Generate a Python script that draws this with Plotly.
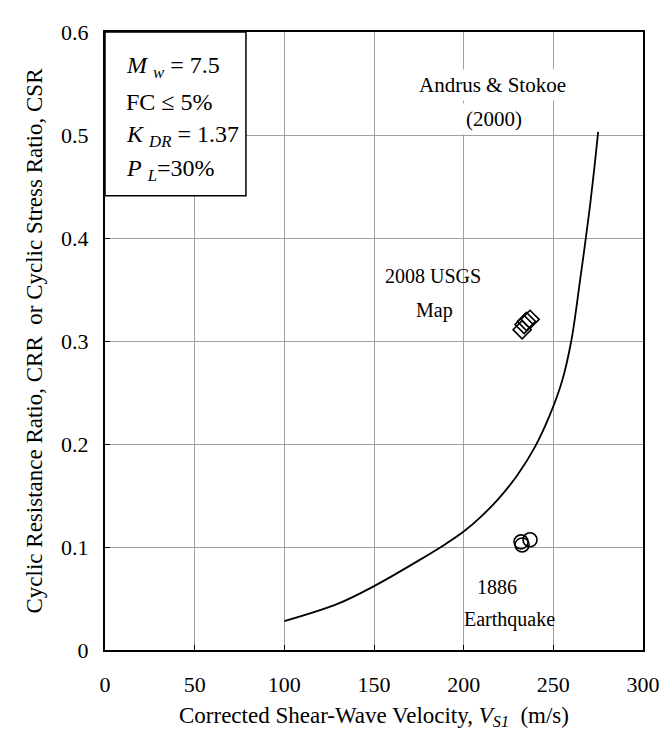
import plotly.graph_objects as go

# Andrus & Stokoe (2000) curve
curve_vs = [100, 130, 150, 175, 190, 200, 210, 220, 230, 240, 248, 255, 260, 265, 270, 273, 275]
curve_crr = [0.028, 0.045, 0.062, 0.087, 0.103, 0.115, 0.130, 0.148, 0.170, 0.198, 0.228, 0.262, 0.300, 0.360, 0.425, 0.470, 0.503]

# 2008 USGS Map points (diamonds)
usgs_vs = [237.0, 235.0, 233.7, 232.6]
usgs_csr = [0.321, 0.319, 0.316, 0.311]

# 1886 Earthquake points (circles)
eq_vs = [237.0, 232.0, 232.6]
eq_csr = [0.107, 0.105, 0.102]

xticks = [0, 50, 100, 150, 200, 250, 300]
yticks = [0, 0.1, 0.2, 0.3, 0.4, 0.5, 0.6]
ytick_labels = ["0", "0.1", "0.2", "0.3", "0.4", "0.5", "0.6"]

# text labels: (text, x, y, font size)
labels = [("Andrus & Stokoe", 216, 0.549, 21), ("(2000)", 217, 0.516, 21),
          ("2008 USGS", 183, 0.363, 20), ("Map", 184, 0.330, 20),
          ("1886", 218.5, 0.061, 20), ("Earthquake", 225.5, 0.030, 20)]

box_lines = ["<i>M</i> <sub><i>w</i></sub> = 7.5",
             "FC ≤ 5%",
             "<i>K</i> <sub><i>DR</i></sub> = 1.37",
             "<i>P</i> <sub><i>L</i></sub>=30%"]
box_y = [0.566, 0.532, 0.499, 0.466]

FONT = "Liberation Serif"

fig = go.Figure()
fig.add_trace(go.Scatter(x=curve_vs, y=curve_crr, mode="lines",
                         line=dict(color="black", width=1.8, shape="spline"),
                         showlegend=False, hoverinfo="skip"))
fig.add_trace(go.Scatter(x=usgs_vs, y=usgs_csr, mode="markers",
                         marker=dict(symbol="diamond-open", size=14, color="black",
                                     line=dict(width=1.6, color="black")),
                         showlegend=False))
fig.add_trace(go.Scatter(x=eq_vs, y=eq_csr, mode="markers",
                         marker=dict(symbol="circle-open", size=14, color="black",
                                     line=dict(width=1.6, color="black")),
                         showlegend=False))

axis_common = dict(showgrid=True, gridcolor="#a0a0a0", gridwidth=1,
                   showline=True, linecolor="black", linewidth=2, mirror=True,
                   zeroline=False, ticks="inside", ticklen=5, tickcolor="black",
                   tickfont=dict(family=FONT, size=22, color="black"))

fig.update_xaxes(range=[0, 300], tickvals=xticks, ticktext=[str(v) for v in xticks],
                 ticklabelstandoff=14,
                 title=dict(text="Corrected Shear-Wave Velocity, <i>V</i><sub><i>S1</i></sub>  (m/s)",
                            font=dict(family=FONT, size=23, color="black"), standoff=10),
                 **axis_common)
fig.update_yaxes(range=[0, 0.6], tickvals=yticks, ticktext=ytick_labels,
                 ticklabelstandoff=10,
                 title=dict(text="Cyclic Resistance Ratio, CRR  or Cyclic Stress Ratio, CSR",
                            font=dict(family=FONT, size=23, color="black"), standoff=12),
                 **axis_common)

# info box in top-left corner
fig.add_shape(type="rect", xref="paper", yref="paper", x0=0, x1=0.262, y0=0.735, y1=1,
              line=dict(color="black", width=1.5), fillcolor="white", layer="above")

for t, yy in zip(box_lines, box_y):
    fig.add_annotation(x=0.035, y=yy, xref="paper", yref="y", text=t, showarrow=False,
                       xanchor="left", yanchor="middle",
                       font=dict(family=FONT, size=24, color="black"))

for i, (t, xx, yy, fs) in enumerate(labels):
    fig.add_annotation(x=xx, y=yy, text=t, showarrow=False,
                       bgcolor="white" if i < 2 else None, borderpad=3,
                       font=dict(family=FONT, size=fs, color="black"))

fig.update_layout(width=670, height=738, margin=dict(l=97, r=35, t=17, b=96),
                  plot_bgcolor="white", paper_bgcolor="white",
                  font=dict(family=FONT, color="black"))

fig.write_html("out.html")
